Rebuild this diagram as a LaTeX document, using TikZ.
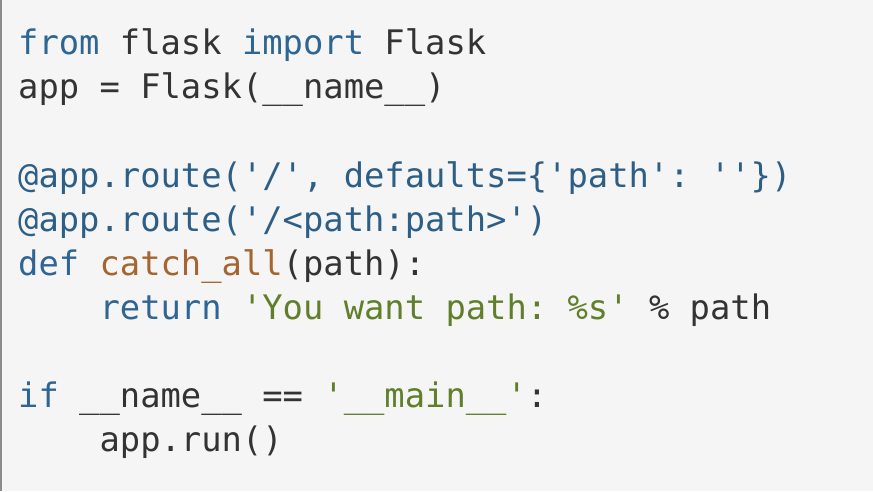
\documentclass[tikz,border=0pt]{standalone}
\usepackage{fontspec}
\setmonofont{DejaVu Sans Mono}

\definecolor{codebg}{HTML}{F5F5F5}
\definecolor{edgegray}{HTML}{8C8C8C}
\definecolor{plain}{HTML}{333333}
\definecolor{kwblue}{HTML}{2E6593}
\definecolor{decblue}{HTML}{2D5F86}
\definecolor{fnbrown}{HTML}{A5652F}
\definecolor{strgreen}{HTML}{617F2B}

\newcommand{\pykw}[1]{\textcolor{kwblue}{#1}}
\newcommand{\pydec}[1]{\textcolor{decblue}{#1}}
\newcommand{\pyfn}[1]{\textcolor{fnbrown}{#1}}
\newcommand{\pystr}[1]{\textcolor{strgreen}{#1}}

\begin{document}
\begin{tikzpicture}[x=1pt, y=-1pt,
	codeline/.style={anchor=base west, inner sep=0pt, text=plain,
		font=\ttfamily\fontsize{33.8}{43.7}\selectfont}]
	\fill[codebg] (0, 0) rectangle (873, 491);
	\useasboundingbox (0, 0) rectangle (873, 491);
	\draw[edgegray, line width=2pt] (1, 0) -- (1, 491);
	
	\node[codeline] (l1) at (18, 54) {\pykw{from} flask \pykw{import} Flask};
	\node[codeline] (l2) at (18, 98.5) {app = Flask(\_\_name\_\_)};
	
	\node[codeline] (l3) at (18, 187) {\pydec{@app.route('/', defaults=\{'path': ''\})}};
	\node[codeline] (l4) at (18, 231) {\pydec{@app.route('/<path:path>')}};
	\node[codeline] (l5) at (18, 275) {\pykw{def} \pyfn{catch\_all}(path):};
	\node[codeline] (l6) at (99.4, 319) {\pykw{return} \pystr{'You want path: \%s'} \% path};
	
	\node[codeline] (l7) at (18, 407.5) {\pykw{if} \_\_name\_\_ == \pystr{'\_\_main\_\_'}:};
	\node[codeline] (l8) at (99.4, 451) {app.run()};
\end{tikzpicture}
\end{document}
